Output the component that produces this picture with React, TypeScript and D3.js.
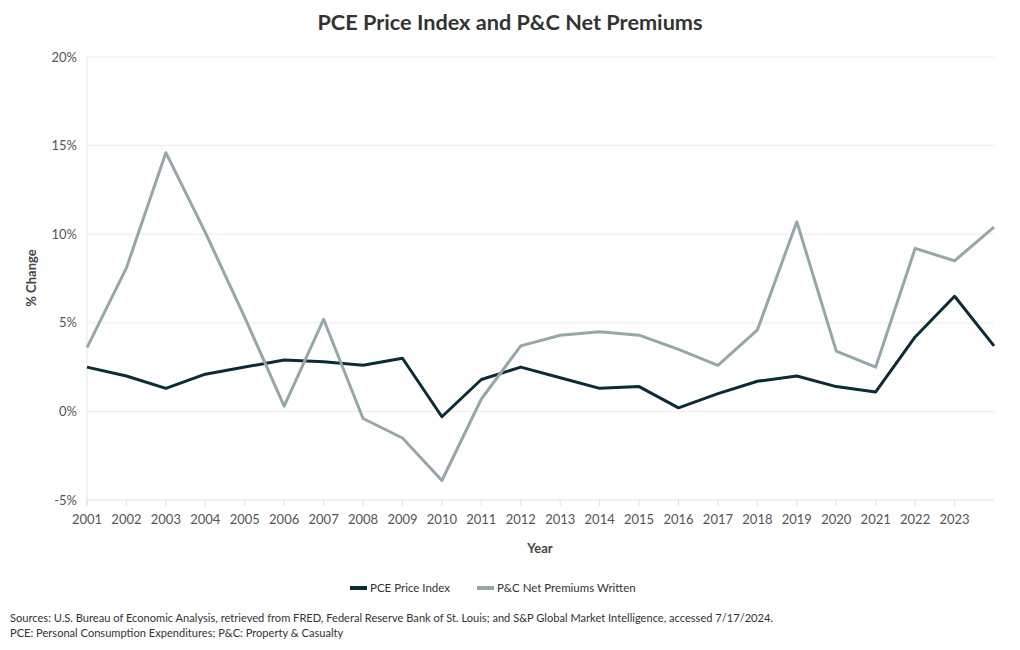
import React from "react";
import * as d3 from "d3";

const years = [2001,2002,2003,2004,2005,2006,2007,2008,2009,2010,2011,2012,2013,2014,2015,2016,2017,2018,2019,2020,2021,2022,2023,2024];
const pce = [2.5,2.0,1.3,2.1,2.5,2.9,2.8,2.6,3.0,-0.3,1.8,2.5,1.9,1.3,1.4,0.2,1.0,1.7,2.0,1.4,1.1,4.2,6.5,3.7];
const pnc = [3.6,8.1,14.6,10.1,5.3,0.3,5.2,-0.4,-1.5,-3.9,0.7,3.7,4.3,4.5,4.3,3.5,2.6,4.6,10.7,3.4,2.5,9.2,8.5,10.4];
const yTicks = [-5,0,5,10,15,20];
const xTicks = years.slice(0, 23);

const seriesNames = ["PCE Price Index", "P&C Net Premiums Written"];
const colors = ["#0b2b38", "#95a7a9"];

const W = 1020, H = 650;
const M = { left: 87, right: 994, top: 57, bottom: 500 };
const FONT = "'Source Sans Pro', Lato, 'Noto Sans', sans-serif";

export default function App() {
  const x = d3.scaleLinear().domain([2001, 2024]).range([M.left, M.right]);
  const y = d3.scaleLinear().domain([-5, 20]).range([M.bottom, M.top]);
  const line = d3.line<number>().x((_, i) => x(years[i])).y((d) => y(d));
  const series = [pce, pnc];
  return (
    <svg width={W} height={H} style={{ position: "absolute", left: 0, top: 0, fontFamily: FONT }}>
      <rect width={W} height={H} fill="#fff" />
      <text x={510} y={30} textAnchor="middle" fontSize={21.7} fontWeight="bold" fill="#333">PCE Price Index and P&amp;C Net Premiums</text>
      {yTicks.map((t) => (
        <g key={t}>
          <line x1={M.left} x2={M.right} y1={y(t)} y2={y(t)} stroke={t === -5 ? "#e0e0e0" : "#ececec"} strokeWidth={1} />
          <text x={77} y={y(t) + 4.5} textAnchor="end" fontSize={13} fill="#555">{t}%</text>
        </g>
      ))}
      <line x1={M.left} x2={M.left} y1={M.top} y2={M.bottom + 6} stroke="#e6e6e6" />
      {xTicks.map((t) => (
        <g key={t}>
          <line x1={x(t)} x2={x(t)} y1={M.bottom} y2={M.bottom + 6} stroke="#e0e0e0" />
          <text x={x(t)} y={524} textAnchor="middle" fontSize={13} fill="#555">{t}</text>
        </g>
      ))}
      <text x={540} y={553} textAnchor="middle" fontSize={13} fontWeight="bold" fill="#444">Year</text>
      <text transform="translate(36,278) rotate(-90)" textAnchor="middle" fontSize={13} fontWeight="bold" fill="#444">% Change</text>
      {series.map((s, i) => (
        <path key={i} d={line(s) || ""} fill="none" stroke={colors[i]} strokeWidth={3} strokeLinejoin="round" />
      ))}
      <g>
        <line x1={350} x2={367} y1={588} y2={588} stroke={colors[0]} strokeWidth={4} />
        <text x={370} y={592} fontSize={11.5} fill="#333">{seriesNames[0]}</text>
        <line x1={477} x2={494} y1={588} y2={588} stroke={colors[1]} strokeWidth={4} />
        <text x={497} y={592} fontSize={11.5} fill="#333">{seriesNames[1]}</text>
      </g>
      <text x={10} y={622} fontSize={11.1} fill="#333">Sources: U.S. Bureau of Economic Analysis, retrieved from FRED, Federal Reserve Bank of St. Louis; and S&amp;P Global Market Intelligence, accessed 7/17/2024.</text>
      <text x={10} y={637} fontSize={11.1} fill="#333">PCE: Personal Consumption Expenditures; P&amp;C: Property &amp; Casualty</text>
    </svg>
  );
}
